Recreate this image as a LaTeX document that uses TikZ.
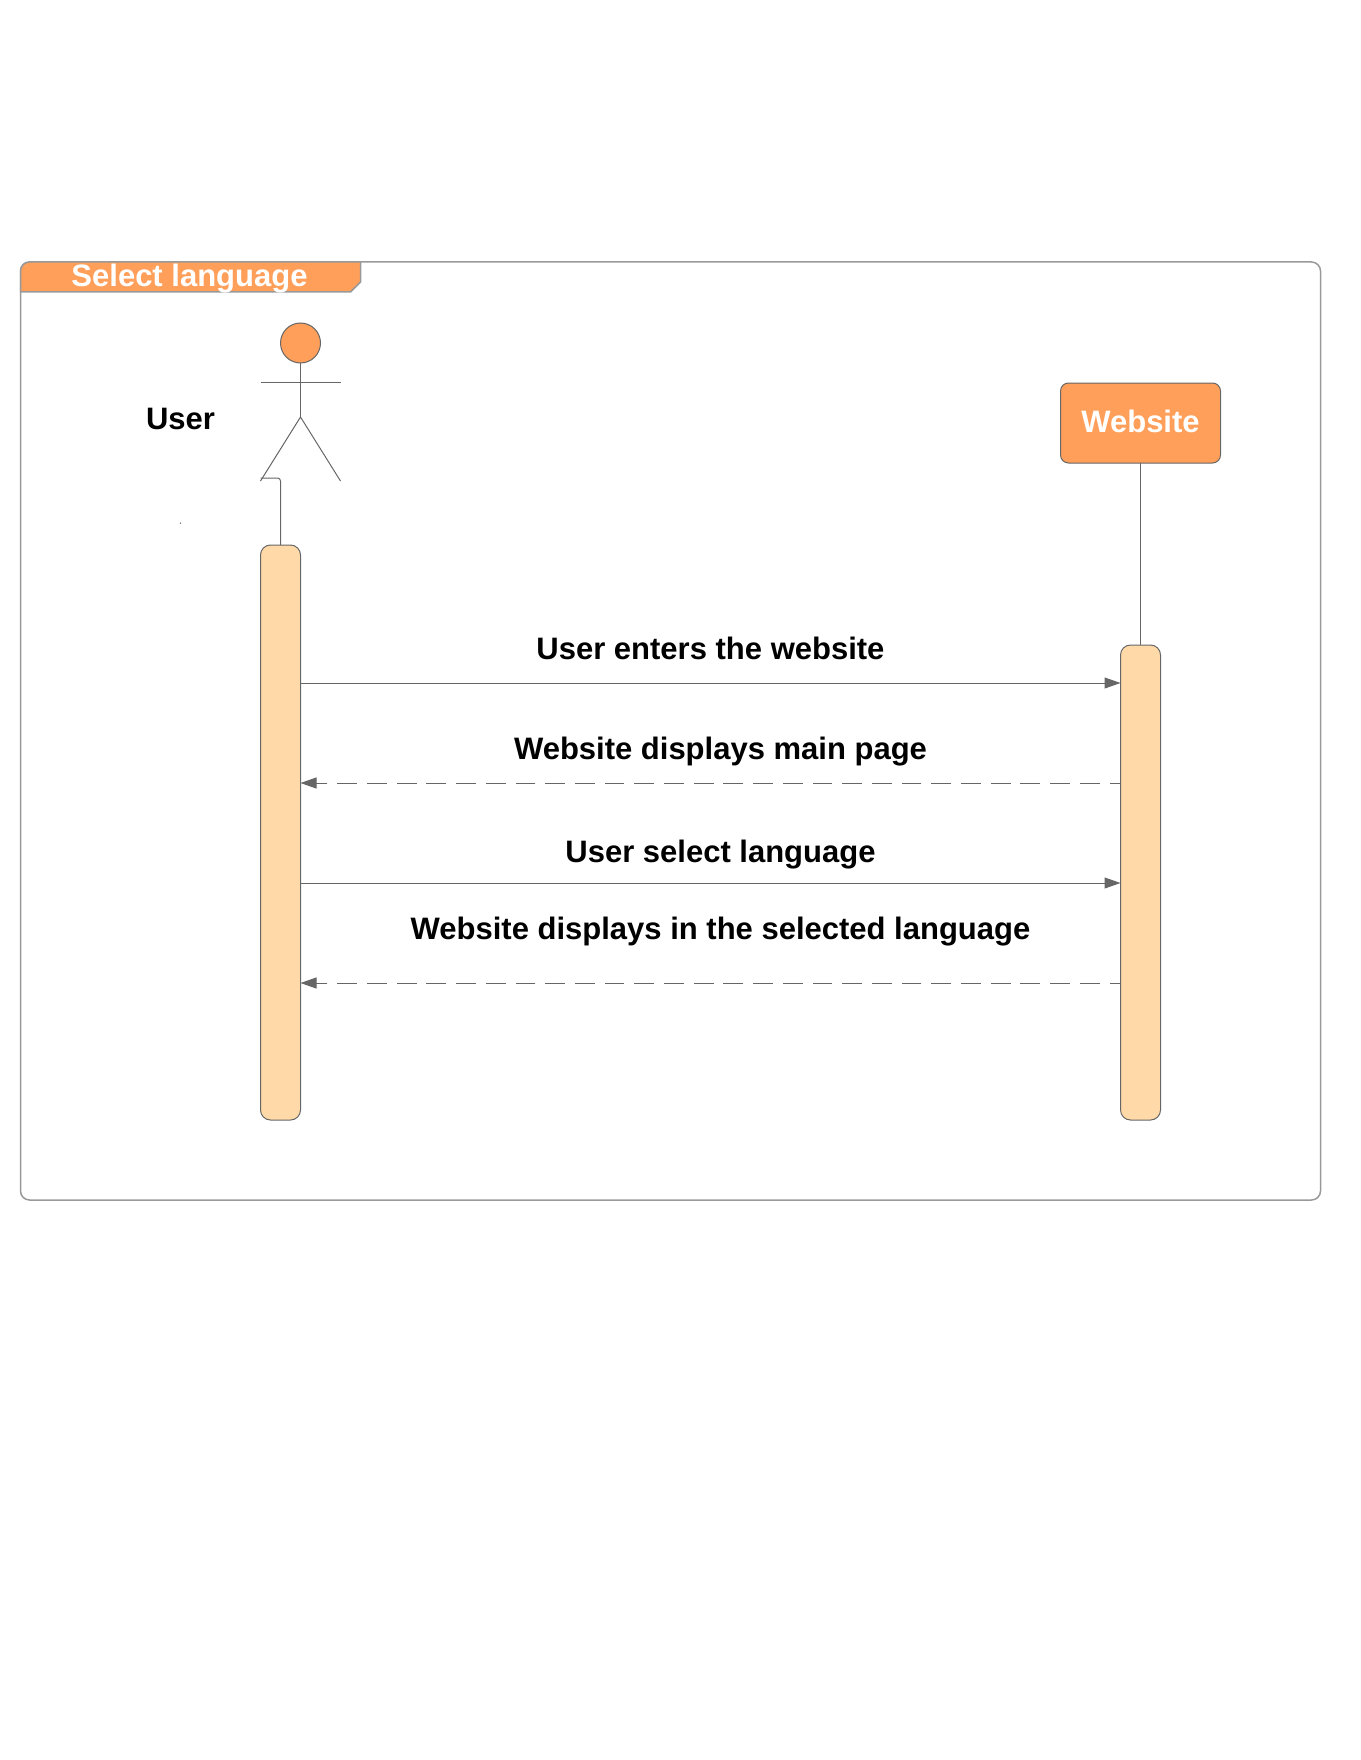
\documentclass[tikz,border=0pt]{standalone}
\usepackage{fontspec}
\setmainfont{Liberation Sans}
\usetikzlibrary{arrows.meta}
\definecolor{tabfill}{HTML}{FF9F5A}
\definecolor{barfill}{HTML}{FFD9A8}
\definecolor{linegray}{HTML}{666666}
\definecolor{framegray}{HTML}{999999}
\tikzset{
    label text/.style = {font = \fontsize{31}{36}\selectfont\bfseries, inner sep = 0pt, anchor = base},
    msgbar/.style = {draw = linegray, line width = 1pt, fill = barfill, rounded corners = 10pt, minimum width = 40pt, inner sep = 0pt, outer sep = 0pt},
    call/.style = {draw = linegray, line width = 1pt, -{Triangle[length = 16pt, width = 11pt]}},
    back/.style = {call, dash pattern = on 19.8pt off 9.9pt, dash phase = 8.8pt},
    stick/.style = {draw = linegray, line width = 1pt}
}
\begin{document}
\begin{tikzpicture}[x = 1pt, y = -1pt]
        \useasboundingbox (-0.5, 0) rectangle (1359.5, 1760);
        % frame and its tab
        \draw[framegray, line width = 1.5pt, rounded corners = 9pt] (20, 262) rectangle (1320, 1200);
        \draw[framegray, line width = 1.5pt, fill = tabfill] (20, 292) [rounded corners = 9pt] -- (20, 262) [sharp corners] -- (360, 262) -- (360, 282) -- (350, 292) -- cycle;
        \node[label text, white] (tabtitle) at (189, 287) {Select language};

        % actor
        \node[circle, draw = linegray, line width = 1pt, fill = tabfill, minimum size = 40pt, inner sep = 0pt, outer sep = 0pt] (head) at (300, 343) {};
        \coordinate (hip) at (300, 417);
        \coordinate (armleft) at (260, 382);
        \coordinate (armright) at (340, 382);
        \coordinate (footleft) at (260, 481);
        \coordinate (footright) at (340, 481);
        \coordinate (foot) at (260, 478);
        \draw[stick] (head.south) -- (hip);
        \draw[stick] (armleft) -- (armright);
        \draw[stick] (footleft) -- (hip) -- (footright);
        \node[label text] (username) at (180, 429) {User};
        \node[circle, fill = linegray, minimum size = 1.5pt, inner sep = 0pt] (speck) at (180, 523) {};

        % lifelines
        \node[msgbar, minimum height = 575pt] (userbar) at (280, 832.5) {};
        \node[msgbar, minimum height = 475pt] (sitebar) at (1140, 882.5) {};
        \node[label text, anchor = center, draw = linegray, line width = 1pt, fill = tabfill, rounded corners = 8pt, minimum width = 160pt, minimum height = 80pt, outer sep = 0pt, text = white, text height = 24pt, text depth = 6pt] (website) at (1140, 423) {Website};
        \draw[stick] (website.south) -- (sitebar.north);
        \draw[stick, rounded corners = 3pt] (foot) -| (userbar.north);

        % messages
        \coordinate (enter) at (0, 683);
        \coordinate (mainpage) at (0, 783);
        \coordinate (choose) at (0, 883);
        \coordinate (shown) at (0, 983);
        \draw[call] (userbar.east |- enter) -- (sitebar.west |- enter);
        \draw[back] (sitebar.west |- mainpage) -- (userbar.east |- mainpage);
        \draw[call] (userbar.east |- choose) -- (sitebar.west |- choose);
        \draw[back] (sitebar.west |- shown) -- (userbar.east |- shown);
        \node[label text] (entertext) at (710, 659) {User enters the website};
        \node[label text] (maintext) at (720, 759) {Website displays main page};
        \node[label text] (choosetext) at (720, 862) {User select language};
        \node[label text] (showntext) at (720, 939) {Website displays in the selected language};
    \end{tikzpicture}
\end{document}
